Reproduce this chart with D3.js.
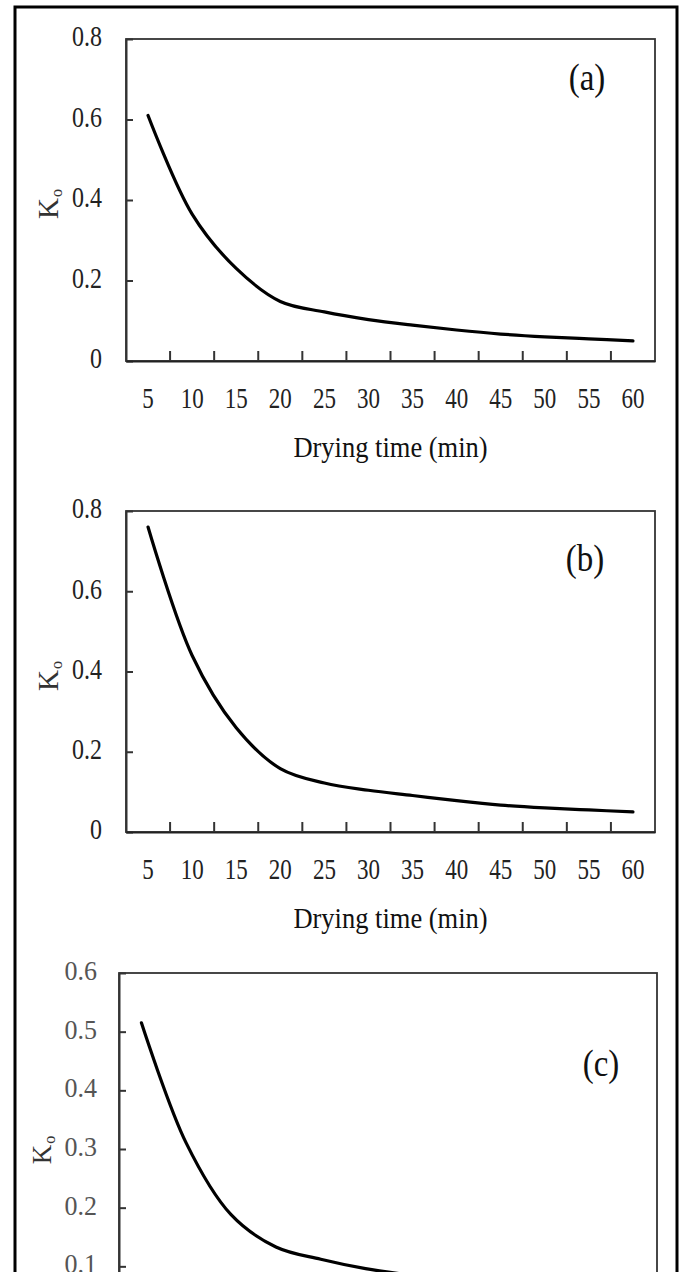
<!DOCTYPE html>
<html>
<head>
<meta charset="utf-8">
<script src="https://cdn.jsdelivr.net/npm/d3@7/dist/d3.min.js"></script>
<style>
  html, body { margin: 0; padding: 0; background: #fff; }
  svg { display: block; }
  text { font-family: "Liberation Serif", "Times New Roman", serif; }
</style>
</head>
<body>
<svg id="chart" width="683" height="1272"></svg>
<script>
// ---- data ----
const categories = [5, 10, 15, 20, 25, 30, 35, 40, 45, 50, 55, 60];
const seriesA = [0.61, 0.365, 0.23, 0.148, 0.122, 0.103, 0.089, 0.077, 0.067, 0.06, 0.055, 0.05];
const seriesB = [0.76, 0.44, 0.26, 0.158, 0.122, 0.104, 0.091, 0.078, 0.067, 0.06, 0.055, 0.05];
const seriesC = [0.515, 0.31, 0.188, 0.133, 0.112, 0.096, 0.085, 0.075, 0.067, 0.06, 0.055, 0.05];
const yTicksAB = [0, 0.2, 0.4, 0.6, 0.8];
const yTicksC = [0, 0.1, 0.2, 0.3, 0.4, 0.5, 0.6];
const panelLabels = ["(a)", "(b)", "(c)"];
const xTitle = "Drying time (min)";
const yTitleMain = "K";
const yTitleSub = "o";

// ---- layout ----
const panels = [
  { values: seriesA, ticks: yTicksAB, ymax: 0.8, left: 126, right: 655, top: 39, bottom: 361,
    label: panelLabels[0], lx: 587, ly: 82, kx: 58, ky: 204, kSize: 29,
    tickColor: "#222", tickSize: 24, tickStretch: 1.25, pad: 24, showX: true },
  { values: seriesB, ticks: yTicksAB, ymax: 0.8, left: 126, right: 655, top: 511, bottom: 832,
    label: panelLabels[1], lx: 585, ly: 563, kx: 58, ky: 676, kSize: 29,
    tickColor: "#222", tickSize: 24, tickStretch: 1.25, pad: 24, showX: true },
  { values: seriesC, ticks: yTicksC, ymax: 0.6, left: 119, right: 657, top: 973, bottom: 1325,
    label: panelLabels[2], lx: 601, ly: 1068, kx: 51, ky: 1150, kSize: 27,
    tickColor: "#555", tickSize: 26, tickStretch: 1.08, pad: 22, showX: false }
];

const svg = d3.select("#chart");

// outer frame
svg.append("rect")
  .attr("x", 15).attr("y", 7).attr("width", 662).attr("height", 1320)
  .attr("fill", "none").attr("stroke", "#000").attr("stroke-width", 3);

const fmt = d => d === 0 ? "0" : d3.format(".1f")(d);

panels.forEach(p => {
  const g = svg.append("g");
  const x = d3.scaleBand().domain(categories).range([p.left, p.right]);
  const y = d3.scaleLinear().domain([0, p.ymax]).range([p.bottom, p.top]);

  // plot area border
  g.append("rect")
    .attr("x", p.left).attr("y", p.top)
    .attr("width", p.right - p.left).attr("height", p.bottom - p.top)
    .attr("fill", "none").attr("stroke", "#333").attr("stroke-width", 1.8);

  // y axis
  const gy = g.append("g")
    .attr("transform", `translate(${p.left},0)`)
    .call(d3.axisLeft(y).tickValues(p.ticks).tickFormat(fmt)
      .tickSizeInner(-7).tickSizeOuter(0).tickPadding(p.pad));
  gy.select(".domain").attr("stroke", "#333").attr("stroke-width", 2);
  gy.selectAll(".tick line").attr("stroke", "#333").attr("stroke-width", 2);
  gy.selectAll(".tick text")
    .attr("fill", p.tickColor)
    .style("font-size", p.tickSize + "px")
    .attr("dy", null)
    .attr("dominant-baseline", "middle")
    .attr("transform", `scale(1,${p.tickStretch})`);

  // x axis (band boundaries as ticks, labels at band centres)
  const gx = g.append("g")
    .attr("transform", `translate(0,${p.bottom})`)
    .call(d3.axisBottom(x).tickSize(0).tickPadding(0));
  gx.select(".domain").attr("stroke", "#222").attr("stroke-width", 2);
  gx.selectAll(".tick text")
    .attr("fill", p.tickColor)
    .style("font-size", "23px")
    .attr("y", 0).attr("dy", null)
    .attr("dominant-baseline", "middle")
    .attr("transform", "translate(0,40) scale(1,1.25)");
  g.append("g").selectAll("line")
    .data(categories.slice(1))
    .join("line")
    .attr("x1", d => x(d)).attr("x2", d => x(d))
    .attr("y1", p.bottom).attr("y2", p.bottom - 10)
    .attr("stroke", "#333").attr("stroke-width", 2);

  if (p.showX) {
    g.append("text")
      .attr("text-anchor", "middle")
      .attr("dominant-baseline", "middle")
      .attr("transform", `translate(${(p.left + p.right) / 2},${p.bottom + 89}) scale(1,1.1)`)
      .attr("fill", "#111")
      .style("font-size", "26.5px")
      .text(xTitle);
  }

  // y title K_o
  const kt = g.append("text")
    .attr("text-anchor", "middle")
    .attr("transform", `translate(${p.kx},${p.ky}) rotate(-90)`)
    .attr("fill", "#333")
    .style("font-size", p.kSize + "px");
  kt.append("tspan").text(yTitleMain);
  kt.append("tspan").attr("dy", 4).attr("dx", 1).style("font-size", "16px").text(yTitleSub);

  // panel label
  g.append("text")
    .attr("text-anchor", "middle")
    .attr("dominant-baseline", "middle")
    .attr("transform", `translate(${p.lx},${p.ly}) scale(1,1.12)`)
    .attr("fill", "#111")
    .style("font-size", "33px")
    .text(p.label);

  // curve
  const line = d3.line()
    .x((d, i) => x(categories[i]) + x.bandwidth() / 2)
    .y(d => y(d))
    .curve(d3.curveCatmullRom.alpha(0.5));
  g.append("path")
    .datum(p.values)
    .attr("d", line)
    .attr("fill", "none")
    .attr("stroke", "#000")
    .attr("stroke-width", 3.2)
    .attr("stroke-linecap", "round");
});
</script>
</body>
</html>
